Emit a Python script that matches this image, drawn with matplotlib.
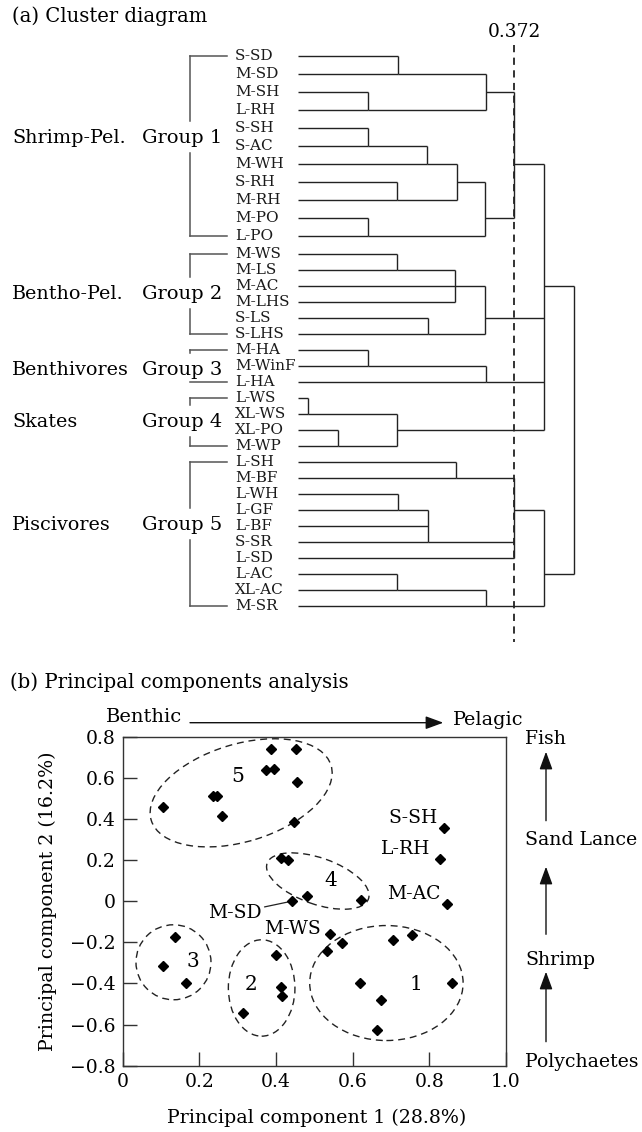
import numpy as np
import matplotlib
matplotlib.use("Agg")
import matplotlib.pyplot as plt
from matplotlib.patches import Ellipse, FancyArrowPatch
from matplotlib.transforms import ScaledTranslation

plt.rcParams['font.family'] = ['DejaVu Serif']

# ---------------- data: cluster diagram ----------------
leaves = ["S-SD", "M-SD", "M-SH", "L-RH", "S-SH", "S-AC", "M-WH", "S-RH", "M-RH",
          "M-PO", "L-PO", "M-WS", "M-LS", "M-AC", "M-LHS", "S-LS", "S-LHS",
          "M-HA", "M-WinF", "L-HA", "L-WS", "XL-WS", "XL-PO", "M-WP",
          "L-SH", "M-BF", "L-WH", "L-GF", "L-BF", "S-SR", "L-SD", "L-AC", "XL-AC", "M-SR"]

group_names = ["Shrimp-Pel.", "Bentho-Pel.", "Benthivores", "Skates", "Piscivores"]
group_labels = ["Group 1", "Group 2", "Group 3", "Group 4", "Group 5"]
group_first = ["S-SD", "M-WS", "M-HA", "L-WS", "L-SH"]
group_last = ["L-PO", "S-LHS", "L-HA", "M-WP", "M-SR"]

merge_ids = ["c1", "c2", "c3", "c4", "c5", "c6", "c7", "c8", "c9", "c10",
             "c11", "c12", "c13", "c14", "c15", "c16", "c17", "c18", "c19", "c20",
             "c21", "c22", "c23", "c24", "c25", "c26", "c27", "c28"]
merge_children = [["S-SD", "M-SD"], ["M-SH", "L-RH"], ["c1", "c2"],
                  ["S-SH", "S-AC"], ["c4", "M-WH"], ["S-RH", "M-RH"], ["c5", "c6"],
                  ["M-PO", "L-PO"], ["c7", "c8"], ["c3", "c9"],
                  ["M-WS", "M-LS"], ["c11", "M-AC", "M-LHS"], ["S-LS", "S-LHS"], ["c12", "c13"],
                  ["M-HA", "M-WinF"], ["c15", "L-HA"],
                  ["L-WS", "XL-WS"], ["XL-PO", "M-WP"], ["c17", "c18"],
                  ["c10", "c14", "c16", "c19"],
                  ["L-SH", "M-BF"], ["L-WH", "L-GF"], ["c22", "L-BF", "S-SR"],
                  ["c21", "c23", "L-SD"], ["L-AC", "XL-AC"], ["c25", "M-SR"], ["c24", "c26"],
                  ["c20", "c27"]]
merge_heights = [0.172, 0.121, 0.323, 0.121, 0.222, 0.171, 0.273, 0.120, 0.322, 0.372,
                 0.171, 0.270, 0.223, 0.322, 0.121, 0.323, 0.017, 0.069, 0.171, 0.423,
                 0.272, 0.172, 0.223, 0.372, 0.171, 0.324, 0.424, 0.476]
merge_rows = ["M-SD", "L-RH", "M-SH", "S-AC", "M-WH", "M-RH", "S-RH", "L-PO", "M-PO", "M-WH",
              "M-LS", "M-AC", "S-LHS", "S-LS", "M-WinF", "L-HA", "XL-WS", "M-WP", "XL-PO", "M-AC",
              "M-BF", "L-GF", "S-SR", "L-GF", "XL-AC", "M-SR", "L-AC", None]
cut_height = 0.372

# ---------------- data: PCA ----------------
g1_pc1 = [0.532, 0.571, 0.704, 0.756, 0.619, 0.860, 0.674, 0.663]
g1_pc2 = [-0.244, -0.203, -0.190, -0.163, -0.400, -0.398, -0.480, -0.628]
g2_pc1 = [0.400, 0.412, 0.415, 0.315]
g2_pc2 = [-0.263, -0.418, -0.463, -0.543]
g3_pc1 = [0.136, 0.106, 0.164]
g3_pc2 = [-0.174, -0.317, -0.397]
g4_pc1 = [0.412, 0.432, 0.480, 0.623]
g4_pc2 = [0.210, 0.200, 0.024, 0.008]
g5_pc1 = [0.106, 0.235, 0.245, 0.260, 0.373, 0.395, 0.386, 0.451, 0.454, 0.447]
g5_pc2 = [0.460, 0.514, 0.514, 0.416, 0.636, 0.644, 0.740, 0.740, 0.579, 0.384]
lab_names = ["S-SH", "L-RH", "M-AC", "M-SD", "M-WS"]
lab_pc1 = [0.838, 0.827, 0.846, 0.441, 0.540]
lab_pc2 = [0.358, 0.206, -0.015, 0.000, -0.158]

x_ticks = [0, 0.2, 0.4, 0.6, 0.8, 1.0]
x_ticklabels = ["0", "0.2", "0.4", "0.6", "0.8", "1.0"]
y_ticks = [-0.8, -0.6, -0.4, -0.2, 0, 0.2, 0.4, 0.6, 0.8]
y_ticklabels = ["\u22120.8", "\u22120.6", "\u22120.4", "\u22120.2", "0", "0.2", "0.4", "0.6", "0.8"]

# ---------------- figure ----------------
W, H = 642, 1132
fig = plt.figure(figsize=(W / 100, H / 100), dpi=100)

def fx(px):
    return px / W

def fy(py):
    return 1 - py / H

# ---- (a) cluster diagram ----
X0, KX = 298.3, 579.8   # pixel of distance 0, pixels per distance unit
Y0, KY = 56.0, 16.0     # pixel of first row, pixels per row unit
TOP_PX = 660.0

def dx(px):
    return (px - X0) / KX

def dy(py):
    return (py - Y0) / KY

axd = fig.add_axes([0, fy(TOP_PX), 1, TOP_PX / H])
axd.set_xlim(dx(0), dx(W))
axd.set_ylim(dy(TOP_PX), dy(0))
axd.axis('off')

row_pos = {name: i + 0.125 * min(i, 11) for i, name in enumerate(leaves)}
node_h = {name: 0.0 for name in leaves}
node_row = dict(row_pos)
lc = '#222222'
for cid, ch, h, r in zip(merge_ids, merge_children, merge_heights, merge_rows):
    ys = [node_row[c] for c in ch]
    axd.plot([h, h], [min(ys), max(ys)], color=lc, lw=1.0, solid_capstyle='butt')
    for c in ch:
        axd.plot([node_h[c], h], [node_row[c], node_row[c]], color=lc, lw=1.0,
                 solid_capstyle='butt')
    node_h[cid] = h
    node_row[cid] = row_pos[r] if r is not None else None

for name in leaves:
    axd.text(dx(235), row_pos[name], name, ha='left', va='center', fontsize=11,
             color='#1a1a1a')

axd.plot([cut_height, cut_height], [dy(45), dy(642)], color='#222222', lw=1.3,
         linestyle=(0, (4, 3)))
axd.text(cut_height, dy(32), f"{cut_height:.3f}", ha='center', va='center', fontsize=13.4)

group_baseline_px = [143, 299, 375, 427, 530]
bc = '#555555'
for gname, glab, f, l, bpx in zip(group_names, group_labels, group_first, group_last,
                                   group_baseline_px):
    y1, y2 = row_pos[f], row_pos[l]
    gap_top, gap_bot = dy(bpx - 22), dy(bpx + 10)
    if gap_top > y1:
        axd.plot([dx(190), dx(190)], [y1, gap_top], color=bc, lw=1.1)
    if gap_bot < y2:
        axd.plot([dx(190), dx(190)], [gap_bot, y2], color=bc, lw=1.1)
    axd.plot([dx(190), dx(227)], [y1, y1], color=bc, lw=1.1)
    axd.plot([dx(190), dx(227)], [y2, y2], color=bc, lw=1.1)
    axd.text(dx(12), dy(bpx), gname, ha='left', va='baseline', fontsize=13.8)
    axd.text(dx(142), dy(bpx), glab, ha='left', va='baseline', fontsize=14.0)

fig.text(fx(12), fy(16), "(a) Cluster diagram", ha='left', va='center', fontsize=14.1)

# ---- (b) PCA ----
AX_L, AX_R, AX_T, AX_B = 122.7, 506.0, 736.7, 1065.7
ax = fig.add_axes([fx(AX_L), fy(AX_B), (AX_R - AX_L) / W, (AX_B - AX_T) / H])
ax.set_xlim(0, 1.0)
ax.set_ylim(-0.8, 0.8)
ax.set_xticks(x_ticks)
ax.set_xticklabels(x_ticklabels)
ax.set_yticks(y_ticks)
ax.set_yticklabels(y_ticklabels)
ax.tick_params(direction='in', length=10, width=1.0, labelsize=13.5, pad=5,
               top=False, right=False, color='#333333')
for sp in ax.spines.values():
    sp.set_linewidth(1.0)
    sp.set_color('#333333')

all_pc1 = g1_pc1 + g2_pc1 + g3_pc1 + g4_pc1 + g5_pc1 + lab_pc1
all_pc2 = g1_pc2 + g2_pc2 + g3_pc2 + g4_pc2 + g5_pc2 + lab_pc2
ax.plot(all_pc1, all_pc2, linestyle='none', marker='D', markersize=4.7,
        color='black', zorder=4, clip_on=False)

# cluster ellipses: (center pc1, center pc2, semi-axis a px, semi-axis b px, angle deg)
ell_params = [(0.688, -0.398, 76.7, 57.5, 0), (0.3625, -0.422, 33.3, 48.2, 0),
              (0.1325, -0.297, 37.5, 37.5, 0), (0.509, 0.098, 53.7, 23.2, -19.3),
              (0.309, 0.527, 94.0, 48.7, 17.0)]
for cx, cy, a, b, ang in ell_params:
    tr = fig.dpi_scale_trans + ScaledTranslation(cx, cy, ax.transData)
    e = Ellipse((0, 0), 2 * a / 100, 2 * b / 100, angle=ang, transform=tr,
                fill=False, edgecolor='#222222', lw=1.0, linestyle=(0, (5, 3.5)))
    ax.add_patch(e)

num_pos = [(0.765, -0.406, "1"), (0.3346, -0.406, "2"), (0.184, -0.293, "3"),
           (0.543, 0.102, "4"), (0.299, 0.606, "5")]
for x, y, s in num_pos:
    ax.text(x, y, s, ha='center', va='center', fontsize=14.5)

lab_offsets = [(-6, 9.4), (-9, 9.7), (-6, 10.7), (-30, -11.7), (-9, 5)]
for name, x, y, (ox, oy) in zip(lab_names, lab_pc1, lab_pc2, lab_offsets):
    if name == "M-SD":
        ax.annotate(name, xy=(x, y), xytext=(ox, oy), textcoords='offset pixels',
                    ha='right', va='center', fontsize=13.5,
                    arrowprops=dict(arrowstyle='-', lw=0.9, color='#222222',
                                    shrinkA=0, shrinkB=3, relpos=(1.0, 0.8)))
    else:
        ax.annotate(name, xy=(x, y), xytext=(ox, oy), textcoords='offset pixels',
                    ha='right', va='center', fontsize=13.5)

ax.text(0.507, -0.159, "Principal component 1 (28.8%)", transform=ax.transAxes,
        ha='center', va='center', fontsize=13.7)
ax.text(-0.195, 0.5, "Principal component 2 (16.2%)", transform=ax.transAxes,
        ha='center', va='center', fontsize=13.7, rotation=90)

fig.text(fx(10), fy(682), "(b) Principal components analysis", ha='left', va='center',
         fontsize=14.2)

# direction arrows / side labels
fig.text(fx(106), fy(717), "Benthic", ha='left', va='center', fontsize=14)
fig.text(fx(452.7), fy(720), "Pelagic", ha='left', va='center', fontsize=13.8)
arrow_style = dict(arrowstyle='-|>,head_length=0.6,head_width=0.22', mutation_scale=18,
                   lw=1.0, color='#111111', shrinkA=0, shrinkB=0)
fig.add_artist(FancyArrowPatch((fx(190), fy(722.7)), (fx(443.3), fy(722.7)),
                               transform=fig.transFigure, **arrow_style))
for tail, tip in [(820.7, 751.7), (934.3, 866.7), (1041.7, 971.7)]:
    fig.add_artist(FancyArrowPatch((fx(546), fy(tail)), (fx(546), fy(tip)),
                                   transform=fig.transFigure, **arrow_style))
for s, py in [("Fish", 739), ("Sand Lance", 840), ("Shrimp", 960), ("Polychaetes", 1062)]:
    fig.text(fx(525), fy(py), s, ha='left', va='center', fontsize=13.6)

fig.savefig("out.png", dpi=100)
